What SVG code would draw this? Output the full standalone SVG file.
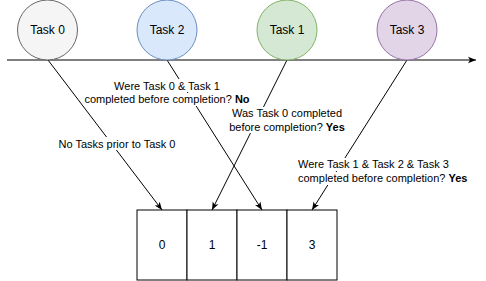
<svg xmlns="http://www.w3.org/2000/svg" width="486" height="281" viewBox="0 0 486 281">
<style>
  text { font-family: "Liberation Sans", Arial, Helvetica, sans-serif; fill: #000000; }
  .node { font-size: 12px; text-anchor: middle; }
  .lbl { font-size: 11px; text-anchor: middle; }
  .lbl-start { font-size: 11px; text-anchor: start; }
  .edge { stroke: #000000; stroke-width: 1; fill: none; }
  .bg { fill: #ffffff; }
  .cell { fill: #ffffff; stroke: #000000; stroke-width: 1; }
  b, .b { font-weight: bold; }
</style>
<defs>
  <marker id="arr" viewBox="0 0 10 10" refX="10" refY="5" markerWidth="8" markerHeight="8" markerUnits="userSpaceOnUse" orient="auto">
    <path d="M0,1 L10,5 L0,9 L2.5,5 z" fill="#000000"/>
  </marker>
</defs>

<g id="timeline">
  <line class="edge" x1="7" y1="60" x2="476" y2="60" marker-end="url(#arr)"/>
</g>

<g id="connectors">
  <line class="edge" x1="48" y1="60" x2="162" y2="210" marker-end="url(#arr)"/>
  <line class="edge" x1="167" y1="60" x2="262" y2="210" marker-end="url(#arr)"/>
  <line class="edge" x1="287" y1="60" x2="212" y2="210" marker-end="url(#arr)"/>
  <line class="edge" x1="407" y1="60" x2="312" y2="210" marker-end="url(#arr)"/>
</g>

<g id="labels">
  <rect class="bg" x="57" y="137" width="120" height="13"/>
  <text class="lbl" x="117" y="147.5">No Tasks prior to Task 0</text>

  <rect class="bg" x="111" y="79" width="111" height="13"/>
  <rect class="bg" x="84" y="93" width="168" height="13"/>
  <text class="lbl" x="167" y="89.5">Were Task 0 &amp; Task 1</text>
  <text class="lbl" x="167" y="103">completed before completion? <tspan class="b">No</tspan></text>

  <rect class="bg" x="231" y="107" width="114" height="13"/>
  <rect class="bg" x="229" y="120" width="118" height="13"/>
  <text class="lbl" x="287" y="117">Was Task 0 completed</text>
  <text class="lbl" x="287" y="130.5">before completion? <tspan class="b">Yes</tspan></text>

  <rect class="bg" x="297" y="158" width="158" height="13"/>
  <rect class="bg" x="297" y="172" width="174" height="13"/>
  <text class="lbl-start" x="298" y="168">Were Task 1 &amp; Task 2 &amp; Task 3</text>
  <text class="lbl-start" x="298" y="182">completed before completion? <tspan class="b">Yes</tspan></text>
</g>

<g id="task0">
  <circle cx="47.5" cy="30" r="30" fill="#f5f5f5" stroke="#666666"/>
  <text class="node" x="47.5" y="34">Task 0</text>
</g>
<g id="task2">
  <circle cx="167" cy="30" r="30" fill="#dae8fc" stroke="#6c8ebf"/>
  <text class="node" x="167" y="34">Task 2</text>
</g>
<g id="task1">
  <circle cx="287" cy="30" r="30" fill="#d5e8d4" stroke="#82b366"/>
  <text class="node" x="287" y="34">Task 1</text>
</g>
<g id="task3">
  <circle cx="407" cy="30" r="30" fill="#e1d5e7" stroke="#9673a6"/>
  <text class="node" x="407" y="34">Task 3</text>
</g>

<g id="array">
  <g id="cell0">
    <rect class="cell" x="137" y="210" width="50" height="70"/>
    <text class="node" x="162" y="249">0</text>
  </g>
  <g id="cell1">
    <rect class="cell" x="187" y="210" width="50" height="70"/>
    <text class="node" x="212" y="249">1</text>
  </g>
  <g id="cell2">
    <rect class="cell" x="237" y="210" width="50" height="70"/>
    <text class="node" x="262" y="249">-1</text>
  </g>
  <g id="cell3">
    <rect class="cell" x="287" y="210" width="50" height="70"/>
    <text class="node" x="312" y="249">3</text>
  </g>
</g>
</svg>
